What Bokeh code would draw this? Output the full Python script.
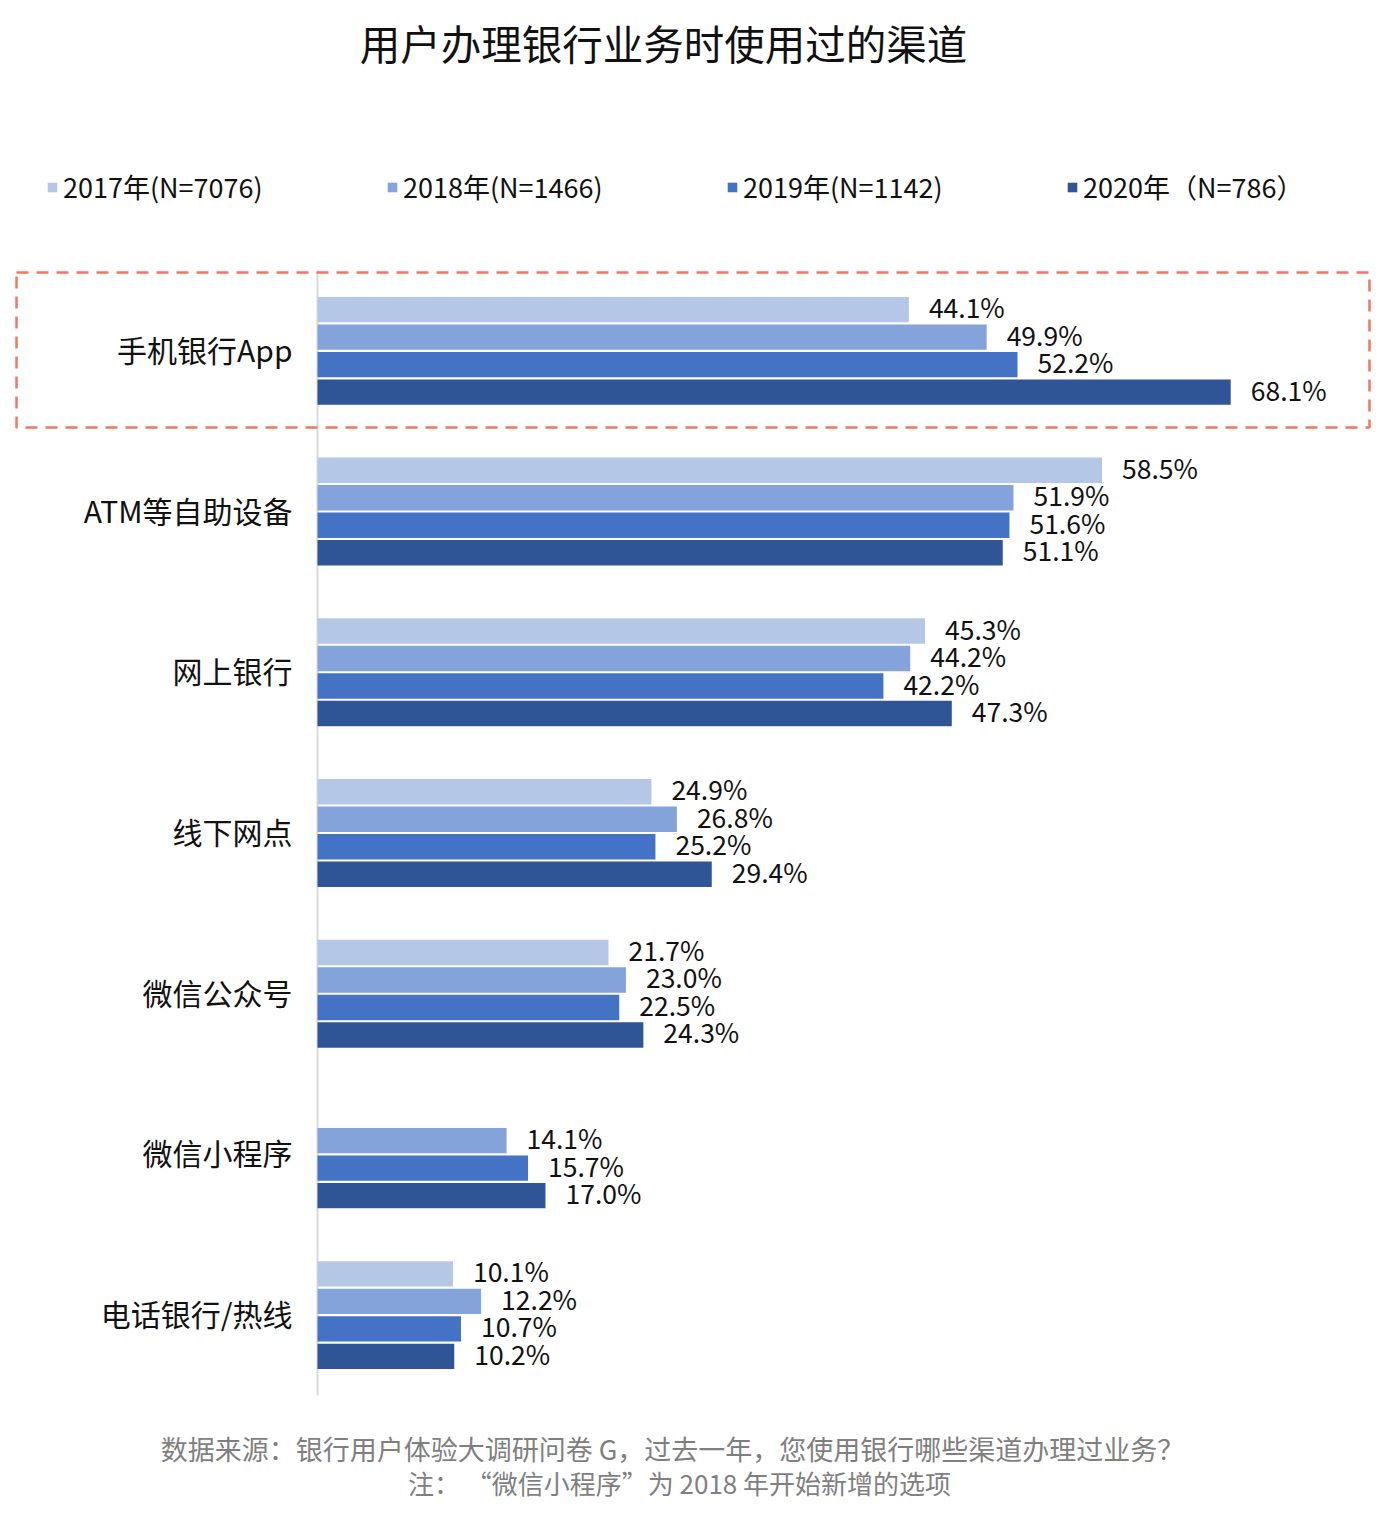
from bokeh.plotting import figure
from bokeh.models import Range1d, ColumnDataSource, Legend, LegendItem, Label
from bokeh.core.properties import value
from bokeh.embed import file_html
from bokeh.resources import INLINE

categories = ["手机银行App", "ATM等自助设备", "网上银行", "线下网点", "微信公众号", "微信小程序", "电话银行/热线"]
years = ["2017年(N=7076)", "2018年(N=1466)", "2019年(N=1142)", "2020年（N=786）"]
v2017 = [44.1, 58.5, 45.3, 24.9, 21.7, None, 10.1]
v2018 = [49.9, 51.9, 44.2, 26.8, 23.0, 14.1, 12.2]
v2019 = [52.2, 51.6, 42.2, 25.2, 22.5, 15.7, 10.7]
v2020 = [68.1, 51.1, 47.3, 29.4, 24.3, 17.0, 10.2]
series = [v2017, v2018, v2019, v2020]
colors = ["#B4C7E7", "#84A3DA", "#4472C4", "#2F5597"]

FNAME = "Noto Sans CJK SC"
FONT = value(FNAME)
W, H = 1378, 1504
PX = 13.41      # pixels per percent
X0 = 317        # screen x of 0%
G = 160.71      # pixels per category
Y0 = 270        # screen y of top of first category

def fx(ref):  # screen px -> data x
    return (ref - X0) / PX

def fy(ref):
    return (ref - Y0) / G

p = figure(width=W, height=H, output_backend="svg", toolbar_location=None,
           x_range=Range1d(-X0 / PX, (W - X0) / PX),
           y_range=Range1d((H - Y0) / G, -Y0 / G),
           x_axis_location=None, y_axis_location=None, title=None,
           min_border=0, min_border_left=0, min_border_right=0,
           min_border_top=0, min_border_bottom=0)
p.outline_line_color = None
p.grid.grid_line_color = None
p.background_fill_color = "white"

# axis line
p.segment(x0=[0], y0=[0], x1=[0], y1=[len(categories)], line_color="#D9D9D9", line_width=2)

# highlight box around first category
p.quad(left=[fx(16)], right=[fx(1369)], top=[fy(272)], bottom=[fy(427)],
       fill_alpha=0, line_color="#F0775F", line_width=2.5, line_dash="12 8")

PITCH = 0.1711
items = []
for j, vals in enumerate(series):
    ys, xs, labels = [], [], []
    for i, v in enumerate(vals):
        if v is None:
            continue
        ys.append(i + 0.5 + (j - 1.5) * PITCH)
        xs.append(v)
        labels.append("%.1f%%" % v)
    src = ColumnDataSource(dict(y=ys, right=xs, label=labels))
    r = p.hbar(y="y", left=0, right="right", height=0.158, fill_color=colors[j],
               line_color=None, source=src)
    p.text(x="right", y="y", text="label", source=src, x_offset=20, y_offset=-3,
           text_font=FONT, text_font_size="26.5px", text_color="#111111",
           text_baseline="middle", text_align="left")
    items.append(LegendItem(label=years[j], renderers=[r]))

# category labels
csrc = ColumnDataSource(dict(x=[-25 / PX] * len(categories),
                             y=[i + 0.5 for i in range(len(categories))], t=categories))
p.text(x="x", y="y", text="t", source=csrc, y_offset=-2, text_font=FONT,
       text_font_size="30px", text_color="#111111", text_align="right",
       text_baseline="middle")

legend = Legend(items=items, orientation="horizontal", location=(46, 1298),
                glyph_width=12, glyph_height=12, label_standoff=5, label_width=300,
                spacing=23, padding=0, margin=0, border_line_color=None,
                background_fill_alpha=0, label_text_font=FNAME,
                label_text_font_size="27px", label_text_color="#111111")
p.add_layout(legend)

p.add_layout(Label(x=fx(663), y=fy(42), text="用户办理银行业务时使用过的渠道",
                   text_font=FNAME, text_font_size="40.5px", text_color="#111111",
                   text_align="center", text_baseline="middle"))
p.add_layout(Label(x=fx(672), y=fy(1448),
                   text="数据来源：银行用户体验大调研问卷 G，过去一年，您使用银行哪些渠道办理过业务？",
                   text_font=FNAME, text_font_size="27px", text_color="#7F7F7F",
                   text_align="center", text_baseline="middle"))
p.add_layout(Label(x=fx(679), y=fy(1482),
                   text="注： “微信小程序”为 2018 年开始新增的选项",
                   text_font=FNAME, text_font_size="26px", text_color="#7F7F7F",
                   text_align="center", text_baseline="middle"))

open("out.html", "w").write(file_html(p, INLINE))
